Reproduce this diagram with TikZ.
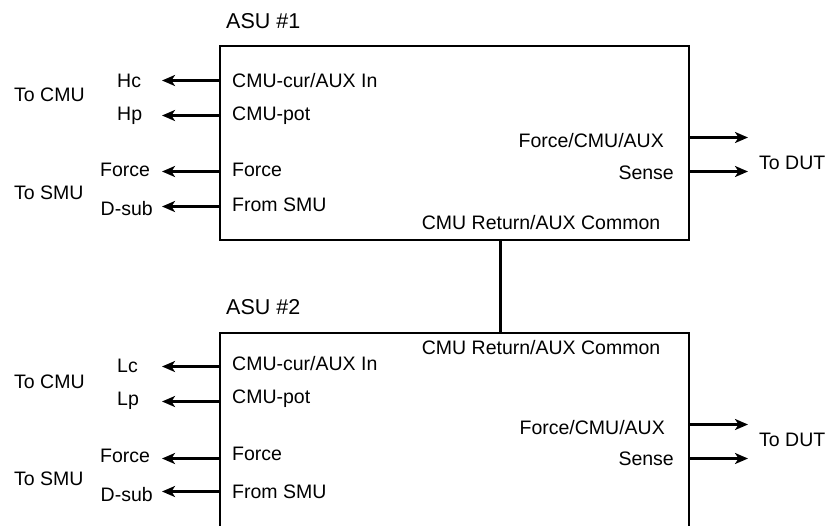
\documentclass[tikz,border=0pt]{standalone}
\usepackage{fontspec}
\setmainfont{Liberation Sans}
\usetikzlibrary{arrows.meta}
\begin{document}
\begin{tikzpicture}[x=1pt,y=-1pt,
  lbl/.style={inner sep=0pt, font=\fontsize{19.5}{22}\selectfont},
  ttl/.style={inner sep=0pt, font=\fontsize{21.5}{24}\selectfont},
  box/.style={draw, line width=2pt, inner sep=0pt, minimum width=469pt},
  arr/.style={line width=3pt, -{Stealth[length=13pt,width=11pt,inset=3.5pt]}},
  link/.style={line width=3pt}]
\useasboundingbox (0,0) rectangle (829,525);
\clip (0,0) rectangle (829,525);
\fill[white] (0,0) rectangle (829,525);

% ---------- ASU #1 ----------
\node[box, minimum height=194pt] (box1) at (454,143) {};
\node[ttl, anchor=base west] (asu1) at (226,28.3) {ASU \#1};

\node[lbl, anchor=base west] (i1a) at (232,87.3) {CMU-cur/AUX In};
\node[lbl, anchor=base west] (i1b) at (232,120.3) {CMU-pot};
\node[lbl, anchor=base west] (i1c) at (232,176.7) {Force};
\node[lbl, anchor=base west] (i1d) at (232,211.7) {From SMU};

\node[lbl, anchor=base west] (hc) at (117,87.3) {Hc};
\node[lbl, anchor=base west] (hp) at (117,120.7) {Hp};
\node[lbl, anchor=base west] (f1) at (100,176.7) {Force};
\node[lbl, anchor=base west] (d1) at (100.5,215.5) {D-sub};
\node[lbl, anchor=base west] (cmu1) at (14,101.7) {To CMU};
\node[lbl, anchor=base west] (smu1) at (14,199.3) {To SMU};

\coordinate (e1a) at (162,80.5);
\coordinate (e1b) at (162,115.5);
\coordinate (e1c) at (162,171.5);
\coordinate (e1d) at (162,206.5);
\draw[arr] (box1.west |- e1a) -- (e1a);
\draw[arr] (box1.west |- e1b) -- (e1b);
\draw[arr] (box1.west |- e1c) -- (e1c);
\draw[arr] (box1.west |- e1d) -- (e1d);

\node[lbl, anchor=base east] (o1a) at (664,147.3) {Force/CMU/AUX};
\node[lbl, anchor=base east] (o1b) at (674,179.3) {Sense};
\node[lbl, anchor=base west] (dut1) at (759,169.3) {To DUT};
\coordinate (r1a) at (748,137.5);
\coordinate (r1b) at (748,171.5);
\draw[arr] (box1.east |- r1a) -- (r1a);
\draw[arr] (box1.east |- r1b) -- (r1b);

\node[lbl, anchor=base west] (ret1) at (421.7,229.3) {CMU Return/AUX Common};

% ---------- ASU #2 ----------
\node[box, minimum height=228pt] (box2) at (454,447) {};
\node[ttl, anchor=base west] (asu2) at (226,314) {ASU \#2};

\node[lbl, anchor=base west] (i2a) at (232,370) {CMU-cur/AUX In};
\node[lbl, anchor=base west] (i2b) at (232,403.3) {CMU-pot};
\node[lbl, anchor=base west] (i2c) at (232,460.7) {Force};
\node[lbl, anchor=base west] (i2d) at (232,498.3) {From SMU};

\node[lbl, anchor=base west] (lc) at (117,372.7) {Lc};
\node[lbl, anchor=base west] (lp) at (117,405) {Lp};
\node[lbl, anchor=base west] (f2) at (100,462.7) {Force};
\node[lbl, anchor=base west] (d2) at (100.5,501.7) {D-sub};
\node[lbl, anchor=base west] (cmu2) at (14,388.3) {To CMU};
\node[lbl, anchor=base west] (smu2) at (14,485) {To SMU};

\coordinate (e2a) at (162,366.5);
\coordinate (e2b) at (162,401.5);
\coordinate (e2c) at (162,458.5);
\coordinate (e2d) at (162,491.5);
\draw[arr] (box2.west |- e2a) -- (e2a);
\draw[arr] (box2.west |- e2b) -- (e2b);
\draw[arr] (box2.west |- e2c) -- (e2c);
\draw[arr] (box2.west |- e2d) -- (e2d);

\node[lbl, anchor=base east] (o2a) at (665,434) {Force/CMU/AUX};
\node[lbl, anchor=base east] (o2b) at (674,465.7) {Sense};
\node[lbl, anchor=base west] (dut2) at (759,446.7) {To DUT};
\coordinate (r2a) at (748,424.5);
\coordinate (r2b) at (748,458.5);
\draw[arr] (box2.east |- r2a) -- (r2a);
\draw[arr] (box2.east |- r2b) -- (r2b);

\node[lbl, anchor=base west] (ret2) at (421.7,354) {CMU Return/AUX Common};

% ---------- link ----------
\coordinate (cx) at (500.5,0);
\draw[link] (box1.south -| cx) -- (box2.north -| cx);
\end{tikzpicture}
\end{document}
